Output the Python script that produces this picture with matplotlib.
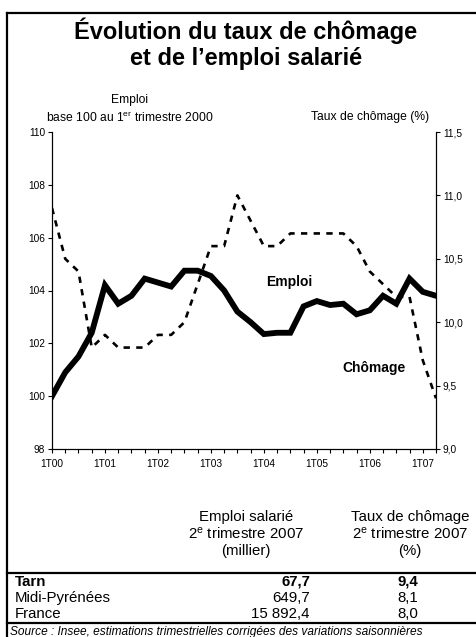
import matplotlib
matplotlib.use("Agg")
import matplotlib.pyplot as plt
from matplotlib.lines import Line2D

plt.rcParams['font.family'] = ['Liberation Sans', 'DejaVu Sans']
plt.rcParams['mathtext.fontset'] = 'custom'
plt.rcParams['mathtext.rm'] = 'Liberation Sans'
plt.rcParams['mathtext.it'] = 'Liberation Sans:italic'
plt.rcParams['mathtext.bf'] = 'Liberation Sans:bold'

# trimestres 1T00 .. 2T07
trimestres = list(range(30))
annees = ["1T00", "1T01", "1T02", "1T03", "1T04", "1T05", "1T06", "1T07"]

emploi = [100.0, 100.9, 101.5, 102.4, 104.2, 103.5, 103.8, 104.45, 104.3, 104.15,
          104.75, 104.75, 104.55, 104.0, 103.2, 102.8, 102.35, 102.4, 102.4, 103.4,
          103.6, 103.45, 103.5, 103.1, 103.25, 103.8, 103.5, 104.45, 103.95, 103.8]

chomage = [10.9, 10.5, 10.4, 9.8, 9.9, 9.8, 9.8, 9.8, 9.9, 9.9,
           10.0, 10.3, 10.6, 10.6, 11.0, 10.8, 10.6, 10.6, 10.7, 10.7,
           10.7, 10.7, 10.7, 10.6, 10.4, 10.3, 10.2, 10.2, 9.7, 9.4]

zones = ["Tarn", "Midi-Pyrénées", "France"]
emploi_2t07 = ["67,7", "649,7", "15 892,4"]
chomage_2t07 = ["9,4", "8,1", "8,0"]

W, H = 477, 637


def fx(x):
    return x / W


def fy(y):
    return 1 - y / H


fig = plt.figure(figsize=(W / 100, H / 100), dpi=100)
ax = fig.add_axes([fx(52), fy(449), fx(436) - fx(52), fy(132) - fy(449)])
ax2 = ax.twinx()

ax.plot(trimestres, emploi, color='black', lw=4.2, solid_joinstyle='miter')
ax2.plot(trimestres, chomage, color='black', lw=1.9, dashes=(2.4, 2.4))

ax.set_xlim(0, 29)
ax.set_ylim(98, 110)
ax2.set_ylim(9.0, 11.5)

ax.set_yticks(range(98, 111, 2))
ax2.set_yticks([9.0, 9.5, 10.0, 10.5, 11.0, 11.5])
ax2.set_yticklabels(["9,0", "9,5", "10,0", "10,5", "11,0", "11,5"])
ax.set_xticks(trimestres)
ax.set_xticklabels([annees[i // 4] if i % 4 == 0 else "" for i in trimestres])

for a in (ax, ax2):
    a.spines['top'].set_visible(False)
    for s in a.spines.values():
        s.set_linewidth(0.8)
    a.tick_params(direction='out', length=3, width=0.8, labelsize=7.3, pad=2)
ax.tick_params(axis='x', pad=4)

ax.text(17.9, 104.32, "Emploi", fontsize=10, fontweight='bold', ha='center', va='center')
ax.text(24.3, 101.07, "Chômage", fontsize=10, fontweight='bold', ha='center', va='center')

# titre et sous-titres
fig.text(fx(246), fy(31), "Évolution du taux de chômage", fontsize=17,
         fontweight='bold', ha='center', va='center')
fig.text(fx(246), fy(59), "et de l\u2019emploi salarié", fontsize=17,
         fontweight='bold', ha='center', va='center')
fig.text(fx(130), fy(100), "Emploi", fontsize=8.7, ha='center', va='center')
fig.text(fx(130), fy(118), r"base 100 au 1$^{\mathrm{er}}$ trimestre 2000", fontsize=8.7,
         ha='center', va='center')
fig.text(fx(370), fy(117), "Taux de chômage (%)", fontsize=8.7, ha='center', va='center')

# tableau
fig.text(fx(246), fy(517), "Emploi salarié", fontsize=10.8, ha='center', va='center')
fig.text(fx(246), fy(534), r"2$^{\mathrm{e}}$ trimestre 2007", fontsize=10.8,
         ha='center', va='center')
fig.text(fx(246), fy(551), "(millier)", fontsize=10.8, ha='center', va='center')
fig.text(fx(410), fy(517), "Taux de chômage", fontsize=10.8, ha='center', va='center')
fig.text(fx(410), fy(534), r"2$^{\mathrm{e}}$ trimestre 2007", fontsize=10.8,
         ha='center', va='center')
fig.text(fx(410), fy(551), "(%)", fontsize=10.8, ha='center', va='center')

for i, (z, e, c) in enumerate(zip(zones, emploi_2t07, chomage_2t07)):
    y = 582 + i * 16
    w = 'bold' if i == 0 else 'normal'
    fig.text(fx(15), fy(y), z, fontsize=10.8, fontweight=w, ha='left', va='center')
    fig.text(fx(310), fy(y), e, fontsize=10.8, fontweight=w, ha='right', va='center')
    fig.text(fx(408), fy(y), c, fontsize=10.8, fontweight=w, ha='center', va='center')

fig.text(fx(10), fy(632), "Source : Insee, estimations trimestrielles corrigées des variations saisonnières",
         fontsize=8.6, style='italic', ha='left', va='center')

# cadre
lw = 1.6
fig.add_artist(Line2D([fx(7), fx(7)], [fy(13), fy(637)], color='black', lw=lw))
fig.add_artist(Line2D([fx(7), 1], [fy(13), fy(13)], color='black', lw=lw))
fig.add_artist(Line2D([fx(7), 1], [fy(573), fy(573)], color='black', lw=lw))
fig.add_artist(Line2D([fx(7), 1], [fy(623), fy(623)], color='black', lw=lw))

fig.savefig("out.png", dpi=100)
